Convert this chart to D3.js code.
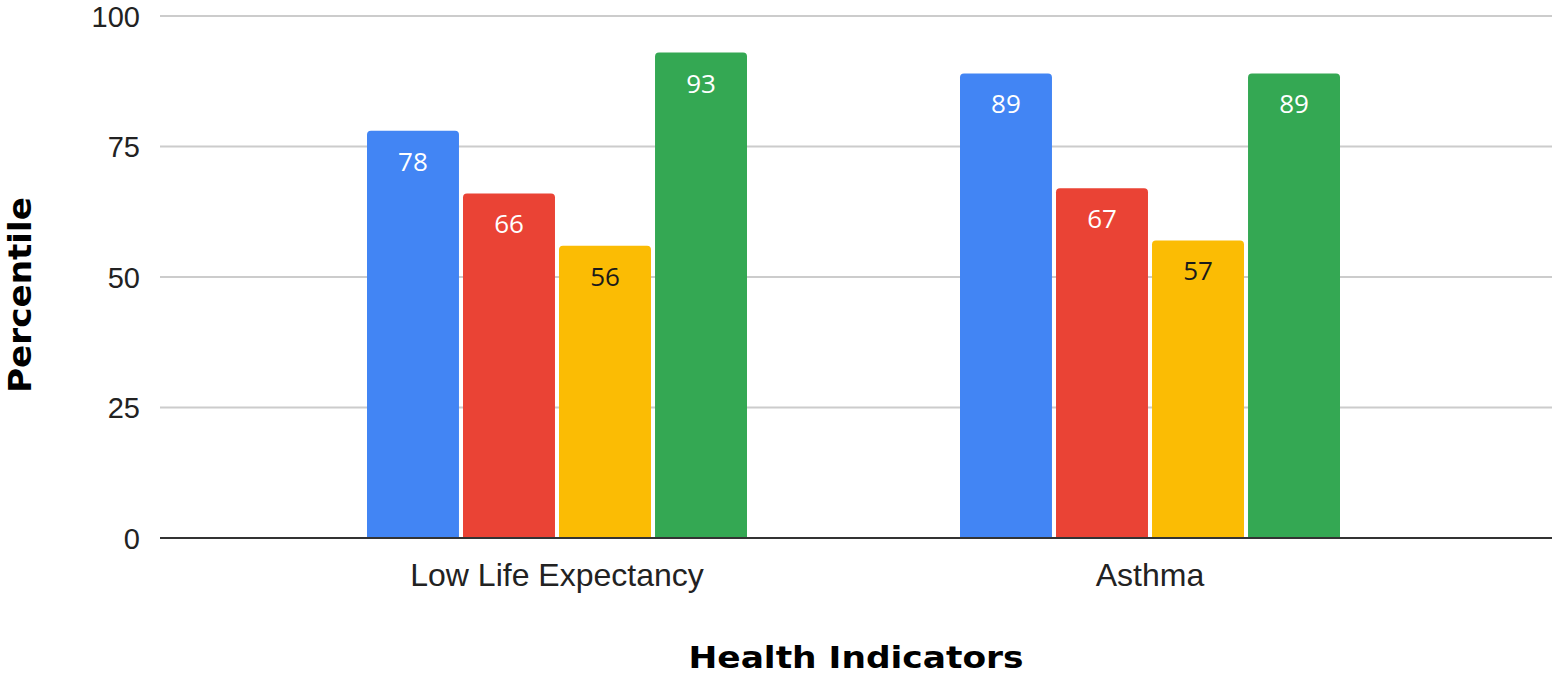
<!DOCTYPE html>
<html><head><meta charset="utf-8">
<script src="https://cdn.jsdelivr.net/npm/d3@7"></script>
<style>html,body{margin:0;padding:0;background:#fff;overflow:hidden}</style>
</head><body>
<svg id="chart" width="1552" height="678"></svg>
<script>
const categories = ["Low Life Expectancy", "Asthma"];
const seriesNames = ["Series A", "Series B", "Series C", "Series D"];
const seriesColors = ["#4285F4", "#EA4335", "#FBBC04", "#34A853"];
const labelColors = ["#ffffff", "#ffffff", "#1a1a1a", "#ffffff"];
const valuesA = [78, 89];
const valuesB = [66, 67];
const valuesC = [56, 57];
const valuesD = [93, 89];
const yTicks = [0, 25, 50, 75, 100];
const xTitle = "Health Indicators";
const yTitle = "Percentile";

const series = [valuesA, valuesB, valuesC, valuesD];
const svg = d3.select("#chart");
const plotL = 160, plotR = 1552, plotT = 16, plotB = 538;

const y = d3.scaleLinear().domain([0, 100]).range([plotB, plotT]);
const x0 = d3.scaleBand().domain(categories).range([260.5, 1446.5]).paddingInner(0).paddingOuter(0);
const groupW = 380;
const x1 = d3.scaleBand().domain(d3.range(series.length))
  .range([(x0.bandwidth() - groupW) / 2, (x0.bandwidth() + groupW) / 2])
  .paddingInner(0.042).paddingOuter(0);

// grid
const grid = svg.append("g");
grid.selectAll("line").data(yTicks.filter(t => t !== 0)).join("line")
  .attr("x1", plotL).attr("x2", plotR)
  .attr("y1", d => y(d)).attr("y2", d => y(d))
  .attr("stroke", "#cccccc").attr("stroke-width", 2);

// y axis labels
const yAxis = d3.axisLeft(y).tickValues(yTicks).tickSize(0).tickPadding(0);
const yg = svg.append("g").attr("transform", `translate(140,0)`).call(yAxis);
yg.select(".domain").remove();
yg.selectAll("text").attr("font-family", "'Liberation Sans', Arial, sans-serif")
  .attr("font-size", 29).attr("fill", "#222").attr("dy", "0.36em");

// bars
function roundTopRect(x, yTop, w, h, r) {
  r = Math.min(r, h, w / 2);
  return `M${x},${yTop + h}V${yTop + r}Q${x},${yTop} ${x + r},${yTop}H${x + w - r}Q${x + w},${yTop} ${x + w},${yTop + r}V${yTop + h}Z`;
}
const data = [];
categories.forEach((c, ci) => series.forEach((s, si) => data.push({c, si, v: s[ci]})));
const bars = svg.append("g");
bars.selectAll("path").data(data).join("path")
  .attr("d", d => {
    const bx = x0(d.c) + x1(d.si);
    return roundTopRect(bx, y(d.v), x1.bandwidth(), y(0) - y(d.v), 4);
  })
  .attr("fill", d => seriesColors[d.si]);

bars.selectAll("text").data(data).join("text")
  .attr("x", d => x0(d.c) + x1(d.si) + x1.bandwidth() / 2)
  .attr("y", d => y(d.v) + 40)
  .attr("text-anchor", "middle")
  .attr("font-family", "'Open Sans', 'Noto Sans', sans-serif")
  .attr("font-size", 26)
  .attr("fill", d => labelColors[d.si])
  .text(d => d.v);

// baseline
svg.append("line").attr("x1", plotL).attr("x2", plotR)
  .attr("y1", y(0)).attr("y2", y(0)).attr("stroke", "#333").attr("stroke-width", 2);

// x axis labels
const xAxis = d3.axisBottom(x0).tickSize(0).tickPadding(0);
const xg = svg.append("g").attr("transform", `translate(0,${plotB})`).call(xAxis);
xg.select(".domain").remove();
xg.selectAll("text").attr("font-family", "'Liberation Sans', Arial, sans-serif")
  .attr("font-size", 32).attr("fill", "#222").attr("dy", 0).attr("y", 48);

// titles
svg.append("text").attr("x", 856).attr("y", 668).attr("text-anchor", "middle")
  .attr("font-family", "'DejaVu Sans', sans-serif").attr("font-weight", 900)
  .attr("font-size", 30).attr("fill", "#000")
  .attr("textLength", 335).attr("lengthAdjust", "spacingAndGlyphs")
  .text(xTitle);
svg.append("text").attr("transform", "translate(31,295) rotate(-90)").attr("text-anchor", "middle")
  .attr("font-family", "'DejaVu Sans', sans-serif").attr("font-weight", 900)
  .attr("font-size", 32).attr("fill", "#000")
  .attr("textLength", 196).attr("lengthAdjust", "spacingAndGlyphs")
  .text(yTitle);
</script>
</body></html>
